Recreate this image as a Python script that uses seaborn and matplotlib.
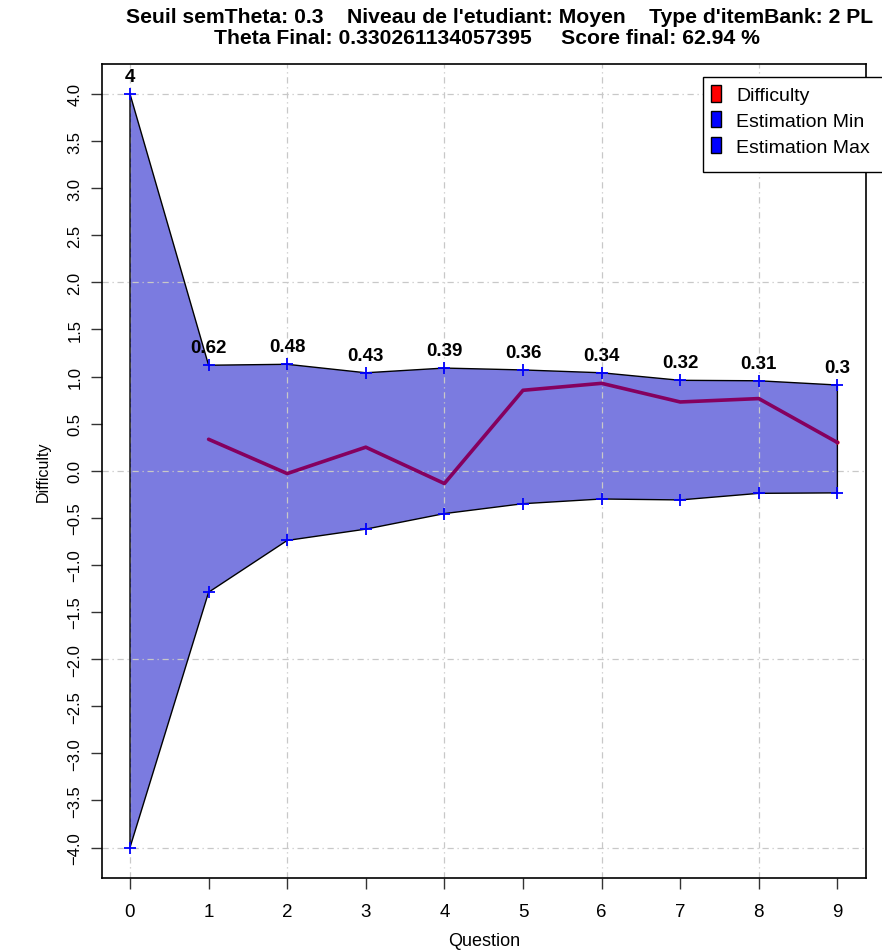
import matplotlib
matplotlib.use("Agg")
import matplotlib.pyplot as plt
import numpy as np
import pandas as pd
import seaborn as sns
from matplotlib.patches import Patch, Rectangle

# values
questions = [0, 1, 2, 3, 4, 5, 6, 7, 8, 9]
est_max = [4.0, 1.12, 1.13, 1.04, 1.09, 1.07, 1.04, 0.96, 0.955, 0.91]
est_min = [-4.0, -1.29, -0.74, -0.62, -0.455, -0.35, -0.30, -0.31, -0.24, -0.235]
theta_q = [1, 2, 3, 4, 5, 6, 7, 8, 9]
theta = [0.334, -0.03, 0.25, -0.136, 0.854, 0.928, 0.73, 0.766, 0.30]
sem_labels = ["4", "0.62", "0.48", "0.43", "0.39", "0.36", "0.34", "0.32", "0.31", "0.3"]

title_1 = "Seuil semTheta: 0.3    Niveau de l'etudiant: Moyen    Type d'itemBank: 2 PL"
title_2 = "Theta Final: 0.330261134057395     Score final: 62.94 %"

sns.set_style("white")
plt.rcParams["font.family"] = ["Liberation Sans", "DejaVu Sans"]
plt.rcParams["text.color"] = "black"
plt.rcParams["axes.labelcolor"] = "black"
plt.rcParams["xtick.color"] = "black"
plt.rcParams["ytick.color"] = "black"

band = pd.DataFrame({"Question": questions, "max": est_max, "min": est_min})
path = pd.DataFrame({"Question": theta_q, "Theta": theta})

fig = plt.figure(figsize=(8.82, 9.53), dpi=100)
ax = fig.add_axes([0.1153, 0.078, 0.8662, 0.854])

# shaded estimation interval, outline drawn above the grid
ax.fill_between(band["Question"], band["min"], band["max"],
                facecolor="#7b7be0", edgecolor="none", zorder=1)
ax.fill_between(band["Question"], band["min"], band["max"],
                facecolor="none", edgecolor="black", linewidth=1.0, zorder=1.8)
sns.scatterplot(data=band, x="Question", y="max", marker="+", color="blue",
                s=70, linewidth=1.3, ax=ax, zorder=3)
sns.scatterplot(data=band, x="Question", y="min", marker="+", color="blue",
                s=70, linewidth=1.3, ax=ax, zorder=3)

# theta path
sns.lineplot(data=path, x="Question", y="Theta", color="#85005f", linewidth=2.6,
             ax=ax, zorder=2)
ax.plot(theta_q[-1], theta[-1], "o", color="red", markersize=2, zorder=1.9)

for q, v, lab in zip(questions, est_max, sem_labels):
    ax.annotate(lab, (q, v), xytext=(0, 12.5), textcoords="offset points",
                ha="center", va="center", fontsize=13.5, fontweight="bold")

ax.set_xlim(-0.36, 9.36)
ax.set_ylim(-4.32, 4.32)
ax.set_xticks(questions)
yt = np.arange(-4, 4.01, 0.5)
ax.set_yticks(yt)
ax.set_yticklabels([f"{v:.1f}".replace("-", "\u2212") for v in yt],
                   rotation=90, va="center")
ax.tick_params(axis="both", direction="out", length=8, width=1.0,
               color="#333333", bottom=True, left=True)
ax.tick_params(axis="x", pad=10, labelsize=13.5)
ax.tick_params(axis="y", pad=6, labelsize=12)

# R-like dash-dot grid, every other tick
for gx in [0, 2, 4, 6, 8]:
    ax.axvline(gx, color="#c8c8c8", linewidth=0.9, linestyle=(0, (5, 3, 1, 3)), zorder=1.5)
for gy in [-4, -2, 0, 2, 4]:
    ax.axhline(gy, color="#c8c8c8", linewidth=0.9, linestyle=(0, (5, 3, 1, 3)), zorder=1.5)

for s in ax.spines.values():
    s.set_color("black")
    s.set_linewidth(1.2)

ax.set_xlabel("Question", fontsize=13, labelpad=9)
ax.set_ylabel("Difficulty", fontsize=11.5, labelpad=12)

fig.text(0.566, 0.982, title_1, ha="center", va="center", fontsize=15.2, fontweight="bold")
fig.text(0.552, 0.960, title_2, ha="center", va="center", fontsize=15.2, fontweight="bold")

# legend box runs off the right edge like in the reference
W, H = 882, 953
fig.patches.append(Rectangle((703 / W, 1 - 173 / H), 200 / W, 95 / H,
                             transform=fig.transFigure, facecolor="white",
                             edgecolor="black", linewidth=1.0, zorder=5))
handles = [
    Patch(facecolor="red", edgecolor="black", label="Difficulty"),
    Patch(facecolor="blue", edgecolor="black", label="Estimation Min"),
    Patch(facecolor="blue", edgecolor="black", label="Estimation Max"),
]
leg = fig.legend(handles=handles, loc="upper left",
                 bbox_to_anchor=(703 / W, 1 - 78 / H), fontsize=14,
                 frameon=False, handlelength=0.55, handleheight=0.95,
                 handletextpad=0.75, labelspacing=0.35, borderpad=0.4,
                 borderaxespad=0)
leg.set_zorder(6)

fig.savefig("out.png", dpi=100)
